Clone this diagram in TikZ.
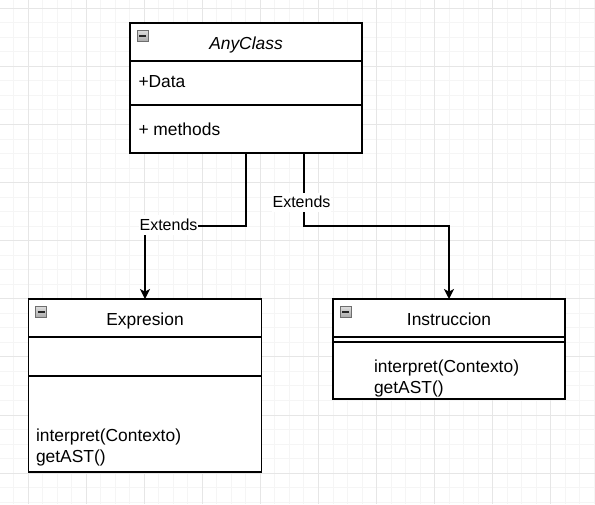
\documentclass[tikz,border=0pt]{standalone}
\usepackage{fontspec}
\setmainfont{Liberation Sans}
\usetikzlibrary{arrows.meta}
\definecolor{gridminor}{HTML}{F5F5F5}
\definecolor{gridmajor}{HTML}{E6E6E6}
\definecolor{iconedge}{HTML}{6E6E6E}
\newcommand\collapseicon[1]{%
  \draw[iconbox] ([shift={(7,7)}]#1.north west) rectangle ++(11,11);
  \draw[iconminus] ([shift={(9,12.5)}]#1.north west) -- ++(7,0);}
\begin{document}
\begin{tikzpicture}[x=0.75pt,y=-0.75pt,
  every node/.style={inner sep=0pt,outer sep=0pt},
  classbox/.style={draw=black,line width=1.1pt,fill=white,anchor=north west,minimum width=174pt},
  divider/.style={draw=black,line width=1.1pt},
  txt/.style={font=\fontsize{13.05}{15.7}\selectfont,text=black,anchor=base west},
  title/.style={font=\fontsize{13.05}{15.7}\selectfont,text=black,anchor=base},
  lbl/.style={font=\fontsize{12}{14}\selectfont,fill=white,text=black,anchor=base,
    text height=11pt,text depth=3.5pt,inner xsep=0.3pt},
  conn/.style={draw=black,line width=1.1pt,-{Stealth[length=7.5pt,width=7.5pt,inset=2pt]}},
  minorline/.style={draw=gridminor,line width=0.75pt},
  majorline/.style={draw=gridmajor,line width=0.75pt},
  iconbox/.style={draw=iconedge,line width=0.7pt,top color=gray!25,bottom color=gray!65},
  iconminus/.style={draw=black!85,line width=1.5pt}
]
\useasboundingbox (0,0) rectangle (595,504);
\fill[white] (0,0) rectangle (595,504);
% grid
\foreach \i in {-2,...,40} {\draw[minorline] ({28+\i*14.525},0) -- ({28+\i*14.525},504);}
\foreach \j in {-1,...,34} {\draw[minorline] (0,{8.3+\j*14.525}) -- (595,{8.3+\j*14.525});}
\foreach \i in {-1,...,10} {\draw[majorline] ({28+\i*58.1},0) -- ({28+\i*58.1},504);}
\foreach \j in {0,...,8} {\draw[majorline] (0,{8.3+\j*58.1}) -- (595,{8.3+\j*58.1});}

% classes
\node[classbox,minimum height=97.5pt] (any) at (130,23) {};
\node[classbox,minimum width=174.75pt,minimum height=129.75pt] (expr) at (28.5,299) {};
\node[classbox,minimum height=75pt] (instr) at (333,299) {};

\draw[divider] (any.west |- 0,61) -- (any.east |- 0,61);
\draw[divider] (any.west |- 0,105) -- (any.east |- 0,105);
\draw[divider] (expr.west |- 0,337) -- (expr.east |- 0,337);
\draw[divider] (expr.west |- 0,376) -- (expr.east |- 0,376);
\draw[divider] (instr.west |- 0,337) -- (instr.east |- 0,337);
\draw[divider] (instr.west |- 0,342) -- (instr.east |- 0,342);

\collapseicon{any}
\collapseicon{expr}
\collapseicon{instr}

\node[title,font=\fontsize{13.05}{15.7}\selectfont\itshape] (anyT) at (246,49) {AnyClass};
\node[txt] (anyA) at (138.5,87.3) {+Data};
\node[txt] (anyM) at (138.5,135) {+ methods};

\node[title] (exprT) at (145,325) {Expresion};
\node[txt] (exprM1) at (36,441) {interpret(Contexto)};
\node[txt] (exprM2) at (36,462.5) {getAST()};

\node[title] (instrT) at (449,325) {Instruccion};
\node[txt] (instrM1) at (374,372) {interpret(Contexto)};
\node[txt] (instrM2) at (374,393.5) {getAST()};

% connectors
\coordinate (anyR) at ([xshift=43.5pt]any.south);
\draw[conn] (any.south) -- (any.south |- 0,226) -- (expr.north |- 0,226) -- (expr.north);
\draw[conn] (anyR) -- (anyR |- 0,226) -- (instr.north |- 0,226) -- (instr.north);
\node[lbl] (lblL) at (168.5,230) {Extends};
\node[lbl] (lblR) at (301.5,207.5) {Extends};
\end{tikzpicture}
\end{document}
